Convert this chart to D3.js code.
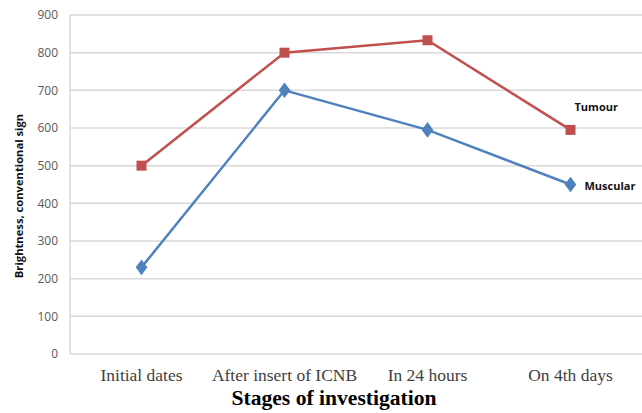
<!DOCTYPE html>
<html><head><meta charset="utf-8">
<script src="https://cdn.jsdelivr.net/npm/d3@7"></script>
<style>body{margin:0;background:#fff}</style>
</head><body>
<svg id="c" width="642" height="413"></svg>
<script>
const categories = ["Initial dates", "After insert of ICNB", "In 24 hours", "On 4th days"];
const tumour = [500, 800, 833, 595];
const muscular = [230, 700, 595, 450];
const yTicks = [0, 100, 200, 300, 400, 500, 600, 700, 800, 900];
const seriesNames = ["Tumour", "Muscular"];

const svg = d3.select("#c");
const L = 70, R = 642, T = 15, B = 354;
const x = d3.scaleBand().domain(categories).range([L, R]).padding(0);
const y = d3.scaleLinear().domain([0, 900]).range([B, T]);

// grid
svg.append("g").selectAll("line").data(yTicks).join("line")
  .attr("x1", L).attr("x2", R).attr("y1", d => y(d)).attr("y2", d => y(d))
  .attr("stroke", "#d9d9d9").attr("stroke-width", 1.5);
svg.append("line").attr("x1", L).attr("x2", L).attr("y1", T).attr("y2", B)
  .attr("stroke", "#d9d9d9").attr("stroke-width", 1.5);

// y axis labels
const yAxis = d3.axisLeft(y).tickValues(yTicks).tickSize(0).tickPadding(12);
const gy = svg.append("g").attr("transform", `translate(${L},0)`).call(yAxis);
gy.select(".domain").remove();
gy.selectAll("text").attr("font-family", "Open Sans, sans-serif").attr("font-size", 12).attr("fill", "#595959");

// x axis labels
const xAxis = d3.axisBottom(x).tickSize(0).tickPadding(0);
const gx = svg.append("g").attr("transform", `translate(0,${B})`).call(xAxis);
gx.select(".domain").remove();
gx.selectAll("text").attr("dy", null).attr("y", 27)
  .attr("font-family", "Liberation Serif, serif").attr("font-size", 16.5)
  .attr("fill", "#404040").attr("transform", "scale(1.06,1)");

const cx = d => x(d) + x.bandwidth() / 2;
const line = d3.line().x(d => cx(d.c)).y(d => y(d.v));
const mk = arr => categories.map((c, i) => ({c, v: arr[i]}));

const colT = "#c0504d", colM = "#4f81bd";
svg.append("path").datum(mk(tumour)).attr("d", line).attr("fill", "none").attr("stroke", colT).attr("stroke-width", 2.5);
svg.append("path").datum(mk(muscular)).attr("d", line).attr("fill", "none").attr("stroke", colM).attr("stroke-width", 2.5);

svg.append("g").selectAll("path").data(mk(tumour)).join("path")
  .attr("d", d3.symbol(d3.symbolSquare, 100))
  .attr("transform", d => `translate(${cx(d.c)},${y(d.v)})`).attr("fill", colT);
svg.append("g").selectAll("path").data(mk(muscular)).join("path")
  .attr("d", d3.symbol(d3.symbolDiamond, 70))
  .attr("transform", d => `translate(${cx(d.c)},${y(d.v)}) scale(1.3,1)`).attr("fill", colM);

// series labels
svg.append("text").attr("x", cx(categories[3]) + 4).attr("y", y(tumour[3]) - 19)
  .text(seriesNames[0]).attr("font-family", "Open Sans, sans-serif").attr("font-weight", "bold")
  .attr("font-size", 11).attr("fill", "#111");
svg.append("text").attr("x", cx(categories[3]) + 14).attr("y", y(muscular[3]) + 5)
  .text(seriesNames[1]).attr("font-family", "Open Sans, sans-serif").attr("font-weight", "bold")
  .attr("font-size", 11).attr("fill", "#111");

// axis titles
svg.append("text").attr("transform", "translate(23,196) rotate(-90)").attr("text-anchor", "middle")
  .text("Brightness, conventional sign").attr("font-family", "Open Sans, sans-serif")
  .attr("font-weight", "bold").attr("font-size", 11.2).attr("fill", "#111");
svg.append("text").attr("x", 0).attr("y", 405).attr("text-anchor", "middle")
  .attr("transform", "translate(334,0) scale(1.08,1)")
  .text("Stages of investigation").attr("font-family", "Liberation Serif, serif")
  .attr("font-weight", "bold").attr("font-size", 20).attr("fill", "#000");
</script>
</body></html>
